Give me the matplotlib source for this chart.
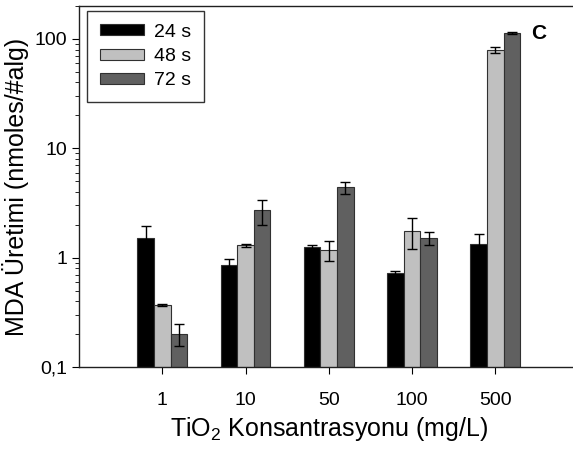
import matplotlib

matplotlib.use("Agg")
import matplotlib.pyplot as plt
import numpy as np
from matplotlib.ticker import FixedLocator, FuncFormatter, LogLocator, NullFormatter

plt.rcParams["font.family"] = ["Liberation Sans", "DejaVu Sans"]
plt.rcParams["mathtext.fontset"] = "custom"
plt.rcParams["mathtext.rm"] = "Liberation Sans"
plt.rcParams["mathtext.it"] = "Liberation Sans"

# TiO2 concentrations (mg/L)
concentrations = ["1", "10", "50", "100", "500"]
series_labels = ["24 s", "48 s", "72 s"]

mda_24 = [1.52, 0.85, 1.26, 0.73, 1.32]
mda_48 = [0.37, 1.30, 1.18, 1.75, 80.0]
mda_72 = [0.20, 2.70, 4.40, 1.50, 113.0]

err_24 = [0.42, 0.12, 0.05, 0.03, 0.32]
err_48 = [0.01, 0.04, 0.24, 0.55, 5.0]
err_72 = [0.045, 0.70, 0.55, 0.20, 1.5]

colors = ["#000000", "#c0c0c0", "#606060"]

fig = plt.figure(figsize=(5.73, 4.5), dpi=100)
ax = fig.add_axes([79 / 573, 83 / 450, 499.5 / 573, 361 / 450])

x = np.arange(1, len(concentrations) + 1)
width = 0.2
values = [mda_24, mda_48, mda_72]
errors = [err_24, err_48, err_72]
for i, (vals, errs) in enumerate(zip(values, errors)):
    ax.bar(
        x + (i - 1) * width,
        vals,
        width,
        color=colors[i],
        edgecolor="#303030",
        linewidth=0.8,
        label=series_labels[i],
        yerr=errs,
        error_kw=dict(ecolor="black", elinewidth=1, capsize=3.6, capthick=1),
        zorder=2,
    )

ax.set_yscale("log")
ax.set_ylim(0.1, 200)
ax.set_xlim(0, 6)

ax.xaxis.set_major_locator(FixedLocator(x))
ax.set_xticklabels(concentrations)
ax.yaxis.set_major_locator(FixedLocator([0.1, 1, 10, 100]))
ax.yaxis.set_major_formatter(
    FuncFormatter(lambda v, pos: f"{v:g}".replace(".", ","))
)
ax.yaxis.set_minor_locator(LogLocator(base=10, subs=np.arange(2, 10)))
ax.yaxis.set_minor_formatter(NullFormatter())

ax.tick_params(axis="both", which="major", direction="out", length=5, width=0.8,
               labelsize=14, top=False, right=False)
ax.tick_params(axis="y", which="minor", direction="out", length=3, width=0.6, right=False)
ax.tick_params(axis="x", which="major", pad=13)
for spine in ax.spines.values():
    spine.set_linewidth(1.0)
    spine.set_color("#202020")

ax.set_xlabel("TiO$_2$ Konsantrasyonu (mg/L)", fontsize=18, labelpad=4)
ax.set_ylabel("MDA Üretimi (nmoles/#alg)", fontsize=18, labelpad=4)

leg = ax.legend(
    loc="upper left",
    bbox_to_anchor=(0.016, 0.986),
    fontsize=14,
    frameon=True,
    fancybox=False,
    edgecolor="black",
    handlelength=2.3,
    handleheight=0.52,
    handletextpad=0.5,
    borderpad=0.65,
    labelspacing=0.38,
    borderaxespad=0,
)
leg.get_frame().set_linewidth(1.0)

ax.text(0.906, 0.925, "C", transform=ax.transAxes, fontsize=15, fontweight="bold",
        ha="left", va="center")

fig.savefig("out.png", dpi=100)
plt.close(fig)
